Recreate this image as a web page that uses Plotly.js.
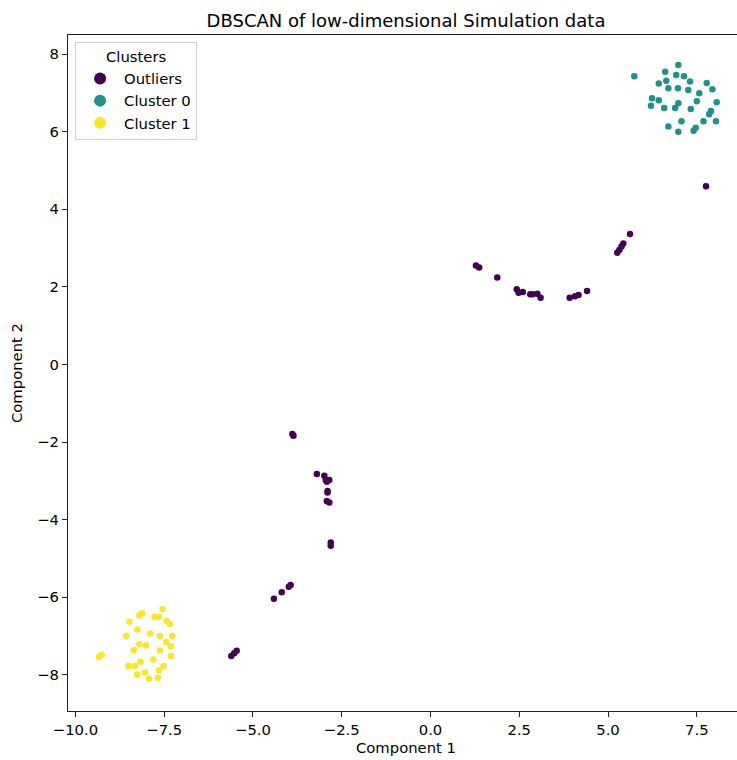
<!DOCTYPE html>
<html>
<head>
<meta charset="utf-8">
<script src="https://cdn.plot.ly/plotly-3.0.1.min.js"></script>
<style>
  html, body { margin: 0; padding: 0; overflow: hidden; background: #fff; }
  #chart { width: 760px; height: 760px; }
</style>
</head>
<body>
<div id="chart"></div>
<script>
// DBSCAN labels: noise points (outliers) and two dense clusters in 2-D embedding space

const outlierX = [7.76, 5.62, 5.43, 5.38, 5.32, 5.26, 1.28, 1.37, 1.88, 2.43, 2.48, 2.60, 2.81, 2.88, 3.01, 3.10, 3.92, 4.07, 4.17, 4.41,
                  -3.89, -3.86, -3.20, -2.99, -2.95, -2.92, -2.85, -2.90, -2.90, -2.92, -2.85, -2.81, -2.81,
                  -3.94, -3.99, -4.19, -4.41, -5.46, -5.53, -5.61];
const outlierY = [4.59, 3.36, 3.12, 3.04, 2.95, 2.88, 2.55, 2.50, 2.24, 1.94, 1.85, 1.87, 1.81, 1.81, 1.82, 1.72, 1.72, 1.76, 1.79, 1.89,
                  -1.79, -1.84, -2.82, -2.87, -2.98, -3.02, -2.98, -3.26, -3.30, -3.52, -3.56, -4.59, -4.67,
                  -5.68, -5.73, -5.87, -6.04, -7.38, -7.44, -7.51];

const cluster0X = [6.98, 5.74, 6.61, 6.92, 7.14, 7.31, 6.43, 6.64, 7.78, 6.70, 6.97, 7.26, 7.94, 7.57, 6.24, 6.43,
                   7.50, 8.06, 6.21, 6.98, 6.89, 6.58, 7.33, 7.90, 7.85, 7.07, 7.69, 8.04, 6.70, 7.47, 7.41, 6.98];
const cluster0Y = [7.72, 7.43, 7.54, 7.46, 7.43, 7.29, 7.24, 7.31, 7.25, 7.12, 7.12, 7.07, 7.09, 6.99, 6.86, 6.81,
                   6.78, 6.76, 6.67, 6.73, 6.61, 6.61, 6.58, 6.53, 6.45, 6.27, 6.27, 6.27, 6.13, 6.10, 6.02, 6.00];

const cluster1X = [-7.55, -8.12, -8.20, -7.77, -7.65, -7.43, -7.34, -8.48, -8.26, -7.90, -8.57, -7.62, -7.27, -7.44, -8.20, -8.01,
                   -7.31, -8.36, -7.62, -9.26, -9.34, -7.31, -7.81, -8.17, -8.51, -8.33, -7.52, -7.65, -8.26, -8.04, -7.68, -7.93];
const cluster1Y = [-6.30, -6.41, -6.47, -6.50, -6.50, -6.61, -6.69, -6.63, -6.83, -6.93, -7.00, -7.00, -7.00, -7.15, -7.21, -7.24,
                   -7.26, -7.36, -7.37, -7.48, -7.54, -7.51, -7.60, -7.66, -7.77, -7.77, -7.77, -7.88, -7.99, -7.94, -8.07, -8.10];

const seriesNames = ['Outliers', 'Cluster 0', 'Cluster 1'];
const seriesColors = ['#440154', '#21918c', '#fde725'];

const xs = [outlierX, cluster0X, cluster1X];
const ys = [outlierY, cluster0Y, cluster1Y];

const traces = seriesNames.map((name, i) => ({
  type: 'scatter',
  mode: 'markers',
  name: name,
  x: xs[i],
  y: ys[i],
  marker: { color: seriesColors[i], size: 6.5, line: { width: 0 } }
}));

const FONT = 'DejaVu Sans, sans-serif';
const FS = 14.8;

const layout = {
  width: 760,
  height: 760,
  paper_bgcolor: '#ffffff',
  plot_bgcolor: '#ffffff',
  margin: { l: 68, r: 16, t: 35, b: 49 },
  font: { family: FONT, size: FS, color: '#000' },
  title: {
    text: 'DBSCAN of low-dimensional Simulation data',
    font: { family: FONT, size: 18, color: '#000' },
    x: 0.5, xref: 'paper', xanchor: 'center',
    y: 1, yref: 'paper', yanchor: 'bottom', pad: { b: 8 }
  },
  xaxis: {
    range: [-10.21, 8.83],
    tick0: 0, dtick: 2.5, tickformat: '.1f',
    showgrid: false, zeroline: false,
    showline: true, linecolor: '#222', linewidth: 1.1, mirror: true,
    ticks: 'outside', ticklen: 5, tickwidth: 1, tickcolor: '#222',
    tickfont: { family: FONT, size: FS, color: '#000' },
    title: { text: 'Component 1', font: { family: FONT, size: FS, color: '#000' }, standoff: 5 }
  },
  yaxis: {
    range: [-8.93, 8.49],
    tick0: 0, dtick: 2,
    showgrid: false, zeroline: false,
    showline: true, linecolor: '#222', linewidth: 1.1, mirror: true,
    ticks: 'outside', ticklen: 5, tickwidth: 1, tickcolor: '#222',
    tickfont: { family: FONT, size: FS, color: '#000' },
    title: { text: 'Component 2', font: { family: FONT, size: FS, color: '#000' }, standoff: 10 }
  },
  showlegend: true,
  legend: {
    x: 0.0105, y: 0.9896, xanchor: 'left', yanchor: 'top',
    bgcolor: 'rgba(255,255,255,0.85)',
    bordercolor: '#d0d0d0', borderwidth: 1,
    font: { family: FONT, size: FS, color: '#000' },
    title: { text: 'Clusters', side: 'top center', font: { family: FONT, size: FS, color: '#000' } },
    itemsizing: 'constant',
    itemwidth: 38
  }
};

Plotly.newPlot('chart', traces, layout, { displayModeBar: false, staticPlot: true });
</script>
</body>
</html>
